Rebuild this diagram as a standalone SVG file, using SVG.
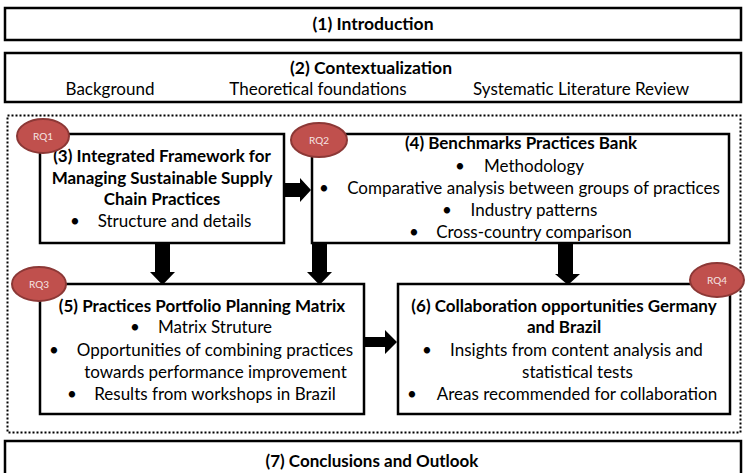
<svg xmlns="http://www.w3.org/2000/svg" width="745" height="473" viewBox="0 0 745 473">
<style>
.box{fill:#fff;stroke:#000;stroke-width:2.5}
.t{font-family:Lato,"Liberation Sans",sans-serif;font-size:17px;fill:#000;text-anchor:middle}
.b{font-weight:bold}
.rq{fill:#c0504d;stroke:#8c3836;stroke-width:2}
.rqt{font-family:Lato,"Liberation Sans",sans-serif;font-size:10px;fill:#f6e4e3;text-anchor:middle}
.arr{fill:#000}
</style>
<rect width="745" height="473" fill="#fff"/>
<rect x="7.5" y="115.5" width="733" height="317" fill="none" stroke="#000" stroke-width="2" stroke-dasharray="2,2"/>
<g id="n1"><rect class="box" x="5" y="8" width="736" height="32"/><text class="t b" x="373" y="30" style="font-size:17.5px">(1) Introduction</text></g>
<g id="n2"><rect class="box" x="5" y="53" width="736" height="49"/><text class="t b" x="371" y="74" style="font-size:17.5px">(2) Contextualization</text>
<text class="t" x="110" y="95">Background</text><text class="t" x="318" y="95">Theoretical foundations</text><text class="t" x="581" y="95">Systematic Literature Review</text></g>
<g id="n3"><rect class="box" x="40" y="134" width="244" height="109"/>
<text class="t b" x="162" y="162">(3) Integrated Framework for</text>
<text class="t b" x="162" y="184">Managing Sustainable Supply</text>
<text class="t b" x="162" y="205">Chain Practices</text>
<text class="t" x="75" y="227">•</text><text class="t" x="174.5" y="227">Structure and details</text></g>
<g id="n4"><rect class="box" x="312" y="134" width="417" height="109"/>
<text class="t b" x="521" y="149">(4) Benchmarks Practices Bank</text>
<text class="t" x="460" y="172">•</text><text class="t" x="534" y="172">Methodology</text>
<text class="t" x="324" y="194">•</text><text class="t" x="533.5" y="194">Comparative analysis between groups of practices</text>
<text class="t" x="447" y="216">•</text><text class="t" x="534" y="216">Industry patterns</text>
<text class="t" x="414" y="238">•</text><text class="t" x="534" y="238">Cross-country comparison</text></g>
<g id="n5"><rect class="box" x="40" y="284" width="324" height="130"/>
<text class="t b" x="202" y="312">(5) Practices Portfolio Planning Matrix</text>
<text class="t" x="135" y="333">•</text><text class="t" x="215" y="333">Matrix Struture</text>
<text class="t" x="54" y="356">•</text><text class="t" x="215" y="356">Opportunities of combining practices</text>
<text class="t" x="215.5" y="378">towards performance improvement</text>
<text class="t" x="72" y="400">•</text><text class="t" x="215" y="400">Results from workshops in Brazil</text></g>
<g id="n6"><rect class="box" x="398" y="284" width="332" height="130"/>
<text class="t b" x="564" y="312">(6) Collaboration opportunities Germany</text>
<text class="t b" x="564" y="333">and Brazil</text>
<text class="t" x="427" y="356">•</text><text class="t" x="576.5" y="356">Insights from content analysis and</text>
<text class="t" x="577.5" y="378">statistical tests</text>
<text class="t" x="412" y="400">•</text><text class="t" x="577" y="400">Areas recommended for collaboration</text></g>
<g id="n7"><rect class="box" x="5" y="441" width="736" height="40"/><text class="t b" x="372" y="467">(7) Conclusions and Outlook</text></g>
<g id="rq1"><ellipse class="rq" cx="43" cy="136" rx="26" ry="17"/><text class="rqt" x="43" y="140">RQ1</text></g>
<g id="rq2"><ellipse class="rq" cx="319" cy="140" rx="28" ry="17"/><text class="rqt" x="319" y="144">RQ2</text></g>
<g id="rq3"><ellipse class="rq" cx="39" cy="284" rx="27" ry="17"/><text class="rqt" x="39" y="288">RQ3</text></g>
<g id="rq4"><ellipse class="rq" cx="717" cy="280" rx="27" ry="17"/><text class="rqt" x="717" y="284">RQ4</text></g>
<g id="connectors">
<polygon class="arr" points="285,183 300,183 300,178 311,190 300,202 300,197 285,197"/>
<polygon class="arr" points="365,337 385,337 385,330 397,342 385,354 385,347 365,347"/>
<polygon class="arr" points="155,244 170,244 170,272 175,272 162.5,285 150,272 155,272"/>
<polygon class="arr" points="312,244 327,244 327,272 332,272 319.5,285 307,272 312,272"/>
<polygon class="arr" points="558,244 573,244 573,274 580,274 568,285 555,274 558,274"/>
</g>
</svg>
